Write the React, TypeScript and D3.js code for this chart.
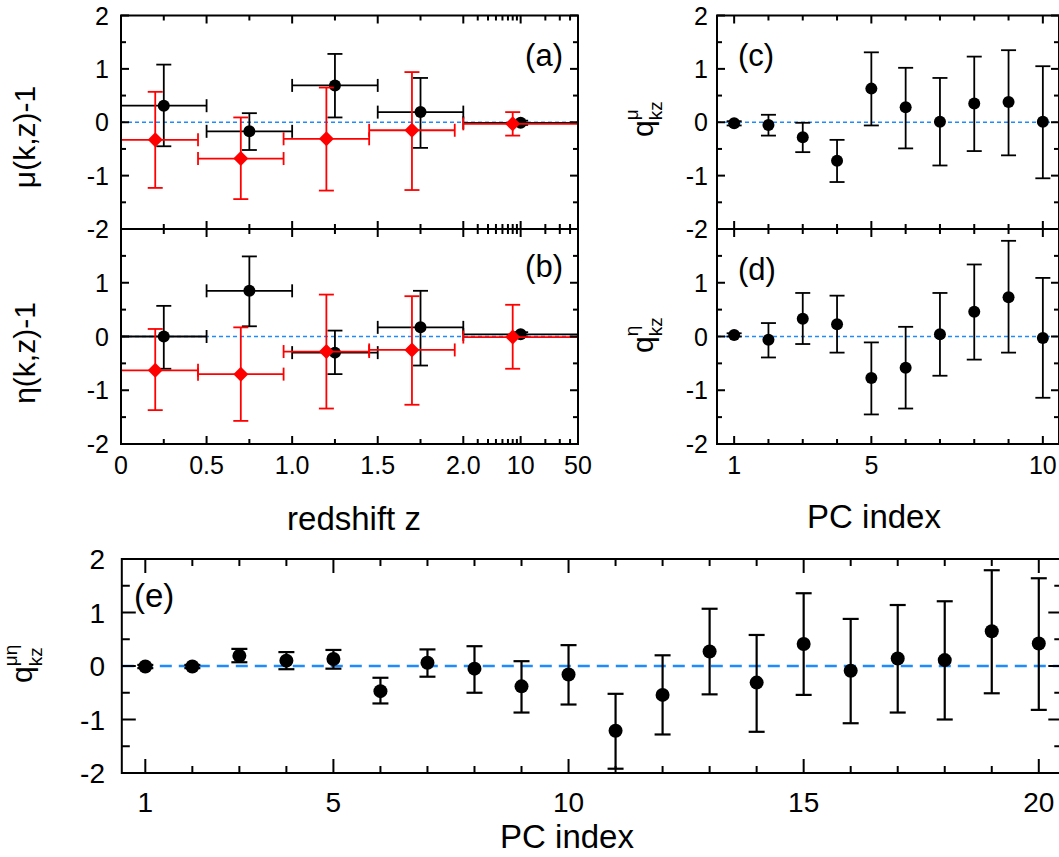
import React, { useRef, useEffect } from 'react'
import * as d3 from 'd3'

// ---- panel (a)/(b): redshift bins ----
const zBlack = [0.25, 0.75, 1.25, 1.75, 10]
const zBlackLo = [0, 0.5, 1.0, 1.5, 2]
const zBlackHi = [0.5, 1.0, 1.5, 2.0, 50]
const zRed = [0.2, 0.7, 1.2, 1.7, 8]
const zRedLo = [0, 0.45, 0.95, 1.45, 2]
const zRedHi = [0.45, 0.95, 1.45, 1.95, 50]

const muBlack = [0.31, -0.17, 0.69, 0.19, -0.01]
const muBlackHi = [1.08, 0.17, 1.28, 0.83, 0.03]
const muBlackLo = [-0.45, -0.52, 0.09, -0.48, -0.05]
const muRed = [-0.33, -0.68, -0.31, -0.15, -0.03]
const muRedHi = [0.57, 0.09, 0.65, 0.94, 0.19]
const muRedLo = [-1.23, -1.44, -1.28, -1.27, -0.25]

const etaBlack = [0.0, 0.85, -0.3, 0.17, 0.04]
const etaBlackHi = [0.57, 1.49, 0.11, 0.85, 0.08]
const etaBlackLo = [-0.6, 0.19, -0.7, -0.54, 0.0]
const etaRed = [-0.63, -0.7, -0.28, -0.25, -0.01]
const etaRedHi = [0.14, 0.17, 0.78, 0.75, 0.59]
const etaRedLo = [-1.37, -1.57, -1.34, -1.27, -0.6]

const zTickValues = [0, 0.5, 1, 1.5, 2, 10, 50]
const zTickLabels = ['0', '0.5', '1.0', '1.5', '2.0', '10', '50']
const zMinorTicks = [0.25, 0.75, 1.25, 1.75, 3, 4, 5, 6, 7, 8, 9, 20, 30, 40]

// ---- panel (c)/(d): PC index 1..10 ----
const pcSmall = [1, 2, 3, 4, 5, 6, 7, 8, 9, 10]
const qMu = [-0.02, -0.05, -0.28, -0.72, 0.63, 0.28, 0.01, 0.35, 0.38, 0.01]
const qMuHi = [0.02, 0.14, -0.01, -0.33, 1.31, 1.02, 0.83, 1.23, 1.35, 1.05]
const qMuLo = [-0.06, -0.25, -0.56, -1.12, -0.06, -0.49, -0.81, -0.54, -0.62, -1.05]
const qEta = [0.03, -0.06, 0.33, 0.23, -0.77, -0.58, 0.04, 0.46, 0.73, -0.03]
const qEtaHi = [0.06, 0.25, 0.81, 0.76, -0.11, 0.18, 0.81, 1.34, 1.78, 1.09]
const qEtaLo = [0.0, -0.39, -0.14, -0.3, -1.45, -1.34, -0.73, -0.43, -0.3, -1.14]
const pcSmallLabels = [1, 5, 10]

// ---- panel (e): PC index 1..20 ----
const pcLarge = d3.range(1, 21)
const qMuEta = [-0.01, -0.01, 0.19, 0.1, 0.13, -0.47, 0.06, -0.05, -0.38, -0.16, -1.21, -0.54, 0.27, -0.31, 0.41, -0.09, 0.14, 0.11, 0.65, 0.42]
const qMuEtaHi = [0.02, 0.02, 0.32, 0.26, 0.3, -0.22, 0.31, 0.37, 0.09, 0.39, -0.52, 0.2, 1.07, 0.58, 1.36, 0.88, 1.14, 1.21, 1.79, 1.64]
const qMuEtaLo = [-0.04, -0.04, 0.07, -0.06, -0.05, -0.7, -0.2, -0.5, -0.87, -0.72, -1.92, -1.28, -0.53, -1.23, -0.54, -1.07, -0.87, -1.0, -0.51, -0.82]
const pcLargeLabels = [1, 5, 10, 15, 20]

const yMajor = [-2, -1, 0, 1, 2]
const yMinor = [-1.5, -0.5, 0.5, 1.5]

const FONT = '"Liberation Sans", Arial, Helvetica, sans-serif'
const BLUE = '#1e8cff'

type Sel = d3.Selection<SVGGElement, unknown, null, undefined>

function App() {
  const svgRef = useRef<SVGSVGElement>(null)

  useEffect(() => {
    const svg = d3.select(svgRef.current)
    svg.selectAll('*').remove()
    const root: Sel = svg.append('g').style('font-family', FONT)

    // scales
    const zLin = d3.scaleLinear().domain([0, 2]).range([121, 463.3])
    const zLog = d3.scaleLog().domain([2, 50]).range([463.3, 578])
    const xZ = (z: number) => (z <= 2 ? zLin(z) : zLog(z))
    const xPc = d3.scaleLinear().domain([0.5, 10.5]).range([717, 1060])
    const xPcE = d3.scaleLinear().domain([0.5, 20.5]).range([121.8, 1062.3])
    const yA = d3.scaleLinear().domain([-2, 2]).range([229, 15.5])
    const yB = d3.scaleLinear().domain([-2, 2]).range([444, 229])
    const yE = d3.scaleLinear().domain([-2, 2]).range([773, 559])

    function zeroLine(g: Sel, x0: number, x1: number, y: number, dash: string, w: number) {
      g.append('line')
        .attr('x1', x0).attr('x2', x1).attr('y1', y).attr('y2', y)
        .attr('stroke', BLUE).attr('stroke-width', w)
        .attr('stroke-dasharray', dash)
    }

    function series(
      g: Sel, xs: number[], ys: number[], hi: number[], lo: number[],
      xLo: number[] | null, xHi: number[] | null,
      fx: (v: number) => number, fy: (v: number) => number,
      color: string, shape: string, r: number, cap: number, lw: number
    ) {
      xs.forEach((xv, i) => {
        const cx = fx(xv)
        const cy = fy(ys[i])
        const seg = (x1: number, y1: number, x2: number, y2: number) =>
          g.append('line')
            .attr('x1', x1).attr('y1', y1).attr('x2', x2).attr('y2', y2)
            .attr('stroke', color).attr('stroke-width', lw)
        const yh = fy(hi[i])
        const yl = fy(lo[i])
        seg(cx, yh, cx, yl)
        seg(cx - cap, yh, cx + cap, yh)
        seg(cx - cap, yl, cx + cap, yl)
        if (xLo && xHi) {
          const a = fx(xLo[i])
          const b = fx(xHi[i])
          seg(a, cy, b, cy)
          seg(a, cy - 6.5, a, cy + 6.5)
          seg(b, cy - 6.5, b, cy + 6.5)
        }
        if (shape === 'diamond') {
          g.append('path')
            .attr('d', `M${cx},${cy - r}L${cx + r},${cy}L${cx},${cy + r}L${cx - r},${cy}Z`)
            .attr('fill', color)
        } else {
          g.append('circle').attr('cx', cx).attr('cy', cy).attr('r', r).attr('fill', color)
        }
      })
    }

    function frame(g: Sel, x0: number, x1: number, y0: number, y1: number) {
      g.append('rect')
        .attr('x', x0).attr('y', y0).attr('width', x1 - x0).attr('height', y1 - y0)
        .attr('fill', 'none').attr('stroke', '#000').attr('stroke-width', 2)
    }

    function yTicks(g: Sel, fy: (v: number) => number, x0: number, x1: number, maj: number, min: number) {
      yMajor.concat(yMinor).forEach(v => {
        const len = Number.isInteger(v) ? maj : min
        const y = fy(v)
        g.append('line').attr('x1', x0).attr('x2', x0 + len).attr('y1', y).attr('y2', y)
          .attr('stroke', '#000').attr('stroke-width', 2)
        g.append('line').attr('x1', x1 - len).attr('x2', x1).attr('y1', y).attr('y2', y)
          .attr('stroke', '#000').attr('stroke-width', 2)
      })
    }

    function xTicks(g: Sel, xs: number[], y0: number, y1: number, len: number) {
      xs.forEach(x => {
        g.append('line').attr('x1', x).attr('x2', x).attr('y1', y0).attr('y2', y0 + len)
          .attr('stroke', '#000').attr('stroke-width', 2)
        g.append('line').attr('x1', x).attr('x2', x).attr('y1', y1 - len).attr('y2', y1)
          .attr('stroke', '#000').attr('stroke-width', 2)
      })
    }

    function yLabels(g: Sel, fy: (v: number) => number, vals: number[], xRight: number, size: number) {
      vals.forEach(v => {
        g.append('text').attr('x', xRight).attr('y', fy(v)).attr('dy', '0.36em')
          .attr('text-anchor', 'end').style('font-size', `${size}px`).text(String(v))
      })
    }

    function text(g: Sel, x: number, y: number, s: string, size: number, anchor = 'middle') {
      g.append('text').attr('x', x).attr('y', y).attr('text-anchor', anchor)
        .style('font-size', `${size}px`).text(s)
    }

    function qLabel(g: Sel, x: number, y: number, sup: string, main: number, sub: number) {
      const t = g.append('g').attr('transform', `translate(${x},${y}) rotate(-90)`)
      t.append('text').attr('x', 0).attr('y', 0).style('font-size', `${main}px`).text('q')
      t.append('text').attr('x', main * 0.56).attr('y', main * 0.32).style('font-size', `${sub}px`).text('kz')
      t.append('text').attr('x', main * 0.56).attr('y', -main * 0.5).style('font-size', `${sub}px`).text(sup)
    }

    function rotLabel(g: Sel, x: number, y: number, s: string, size: number) {
      g.append('text').attr('transform', `translate(${x},${y}) rotate(-90)`)
        .attr('text-anchor', 'middle').style('font-size', `${size}px`).text(s)
    }

    // ---- panels (a) and (b) ----
    const ab = root.append('g')
    zeroLine(ab, 121, 578, yA(0), '4,3', 1.6)
    zeroLine(ab, 121, 578, yB(0), '4,3', 1.6)
    series(ab, zBlack, muBlack, muBlackHi, muBlackLo, zBlackLo, zBlackHi, xZ, yA, '#000', 'circle', 6, 7.5, 1.8)
    series(ab, zRed, muRed, muRedHi, muRedLo, zRedLo, zRedHi, xZ, yA, '#ff0000', 'diamond', 7.5, 7.5, 1.8)
    series(ab, zBlack, etaBlack, etaBlackHi, etaBlackLo, zBlackLo, zBlackHi, xZ, yB, '#000', 'circle', 6, 7.5, 1.8)
    series(ab, zRed, etaRed, etaRedHi, etaRedLo, zRedLo, zRedHi, xZ, yB, '#ff0000', 'diamond', 7.5, 7.5, 1.8)
    frame(ab, 121, 578, yA(2), yA(-2))
    frame(ab, 121, 578, yB(2), yB(-2))
    yTicks(ab, yA, 121, 578, 8, 5)
    yTicks(ab, yB, 121, 578, 8, 5)
    xTicks(ab, zTickValues.map(xZ), yA(2), yA(-2), 8)
    xTicks(ab, zMinorTicks.map(xZ), yA(2), yA(-2), 5)
    xTicks(ab, zTickValues.map(xZ), yB(2), yB(-2), 8)
    xTicks(ab, zMinorTicks.map(xZ), yB(2), yB(-2), 5)
    yLabels(ab, yA, [2, 1, 0, -1, -2], 109, 25)
    yLabels(ab, yB, [1, 0, -1, -2], 109, 25)
    zTickValues.forEach((v, i) => text(ab, xZ(v), 474, zTickLabels[i], 25))
    text(ab, 354, 530, 'redshift z', 33)
    text(ab, 563, 65.5, '(a)', 31, 'end')
    text(ab, 563, 277, '(b)', 31, 'end')
    rotLabel(ab, 35, 137, 'μ(k,z)-1', 30)
    rotLabel(ab, 35, 353, 'η(k,z)-1', 30)

    // ---- panels (c) and (d) ----
    const cd = root.append('g')
    zeroLine(cd, 717, 1060, yA(0), '4,3', 1.6)
    zeroLine(cd, 717, 1060, yB(0), '4,3', 1.6)
    series(cd, pcSmall, qMu, qMuHi, qMuLo, null, null, xPc, yA, '#000', 'circle', 6, 7.5, 1.8)
    series(cd, pcSmall, qEta, qEtaHi, qEtaLo, null, null, xPc, yB, '#000', 'circle', 6, 7.5, 1.8)
    frame(cd, 717, 1059, yA(2), yA(-2))
    frame(cd, 717, 1059, yB(2), yB(-2))
    yTicks(cd, yA, 717, 1059, 8, 5)
    yTicks(cd, yB, 717, 1059, 8, 5)
    const pcMaj = pcSmall.filter(v => pcSmallLabels.includes(v)).map(xPc)
    const pcMin = pcSmall.filter(v => !pcSmallLabels.includes(v)).map(xPc)
    xTicks(cd, pcMaj, yA(2), yA(-2), 8)
    xTicks(cd, pcMin, yA(2), yA(-2), 5)
    xTicks(cd, pcMaj, yB(2), yB(-2), 8)
    xTicks(cd, pcMin, yB(2), yB(-2), 5)
    yLabels(cd, yA, [2, 1, 0, -1, -2], 708, 25)
    yLabels(cd, yB, [1, 0, -1, -2], 708, 25)
    pcSmallLabels.forEach(v => text(cd, xPc(v), 474, String(v), 25))
    text(cd, 874, 528, 'PC index', 33)
    text(cd, 738, 65.5, '(c)', 31, 'start')
    text(cd, 738, 280, '(d)', 31, 'start')
    qLabel(cd, 652.5, 137, 'μ', 30, 19)
    qLabel(cd, 652.5, 353, 'η', 30, 19)

    // ---- panel (e) ----
    const e = root.append('g')
    zeroLine(e, 121.8, 1062.3, yE(0), '12,7', 2.4)
    series(e, pcLarge, qMuEta, qMuEtaHi, qMuEtaLo, null, null, xPcE, yE, '#000', 'circle', 7, 8, 2.2)
    frame(e, 121.8, 1062.3, yE(2), yE(-2))
    yTicks(e, yE, 121.8, 1062.3, 14, 8)
    const eMaj = pcLarge.filter(v => pcLargeLabels.includes(v)).map(xPcE)
    const eMin = pcLarge.filter(v => !pcLargeLabels.includes(v)).map(xPcE)
    xTicks(e, eMaj, yE(2), yE(-2), 14)
    xTicks(e, eMin, yE(2), yE(-2), 7)
    yLabels(e, yE, [2, 1, 0, -1, -2], 105, 28)
    pcLargeLabels.forEach(v => text(e, xPcE(v), 812, String(v), 28))
    text(e, 567, 848, 'PC index', 33)
    text(e, 134, 606.5, '(e)', 33, 'start')
    qLabel(e, 32, 683, 'μη', 30, 19)
  }, [])

  return (
    <svg
      ref={svgRef}
      width={1059}
      height={857}
      style={{ position: 'absolute', left: 0, top: 0, background: '#fff' }}
    />
  )
}

export default App
